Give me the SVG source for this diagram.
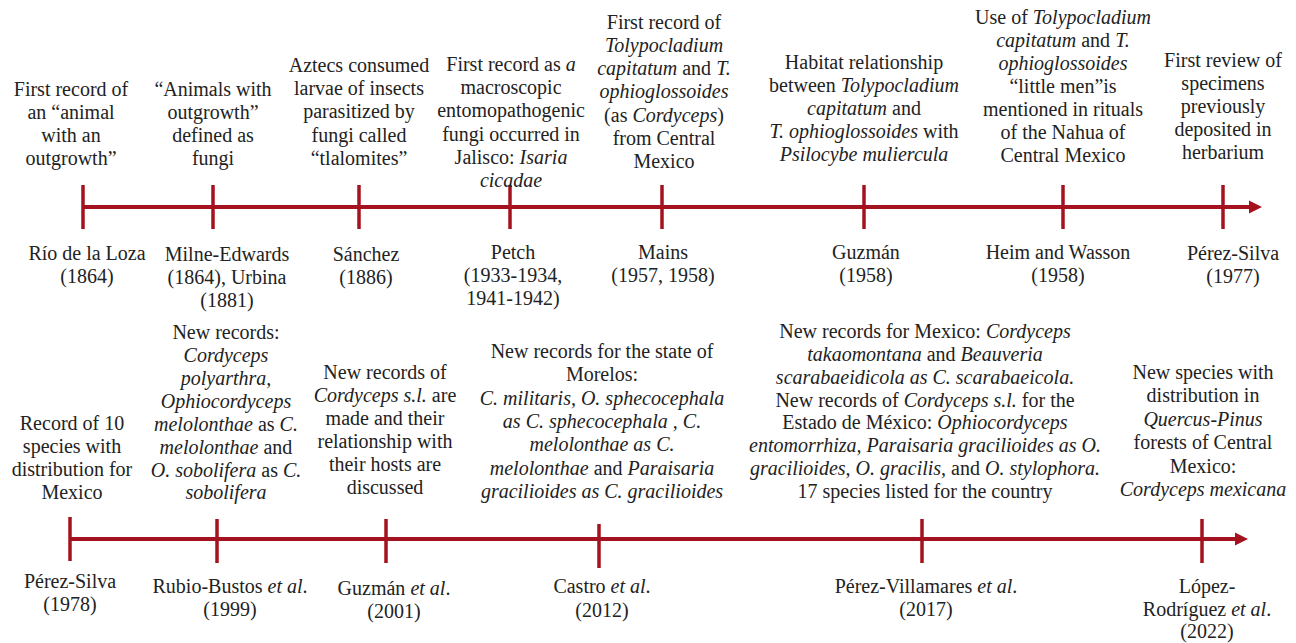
<svg xmlns="http://www.w3.org/2000/svg" width="1296" height="643" viewBox="0 0 1296 643">
<style>
text{font-family:"Liberation Serif","Times New Roman",serif;font-size:20px;fill:#222;text-anchor:middle}
.i{font-style:italic}
.axis{stroke:#a3121e;stroke-width:4;fill:none}
.tick{stroke:#a3121e;stroke-width:3.5}
</style>
<defs>
<marker id="arr" markerUnits="userSpaceOnUse" markerWidth="14" markerHeight="14" viewBox="0 0 14 14" refX="0" refY="7" orient="auto">
<path d="M0,0.5 L13,7 L0,13.5 z" fill="#a3121e"/>
</marker>
</defs>
<rect width="1296" height="643" fill="#fff"/>
<g id="connectors">
<line class="axis" x1="83" y1="207" x2="1249" y2="207" marker-end="url(#arr)"/>
<line class="axis" x1="70" y1="539" x2="1235" y2="539" marker-end="url(#arr)"/>
</g>
<g id="ev-rio">
<line class="tick" x1="83" y1="185" x2="83" y2="229"/>
<text><tspan x="71" y="96">First record of</tspan><tspan x="71" y="119">an “animal</tspan><tspan x="71" y="142">with an</tspan><tspan x="71" y="165">outgrowth”</tspan></text>
<text><tspan x="87" y="260">Río de la Loza</tspan><tspan x="87" y="283">(1864)</tspan></text>
</g>
<g id="ev-milne">
<line class="tick" x1="213" y1="185" x2="213" y2="229"/>
<text><tspan x="213" y="96">“Animals with</tspan><tspan x="213" y="119">outgrowth”</tspan><tspan x="213" y="142">defined as</tspan><tspan x="213" y="165">fungi</tspan></text>
<text><tspan x="227" y="261">Milne-Edwards</tspan><tspan x="227" y="284">(1864), Urbina</tspan><tspan x="227" y="307">(1881)</tspan></text>
</g>
<g id="ev-sanchez">
<line class="tick" x1="359" y1="185" x2="359" y2="229"/>
<text><tspan x="359" y="72">Aztecs consumed</tspan><tspan x="359" y="95">larvae of insects</tspan><tspan x="359" y="118">parasitized by</tspan><tspan x="359" y="142">fungi called</tspan><tspan x="359" y="165">“tlalomites”</tspan></text>
<text><tspan x="366" y="261">Sánchez</tspan><tspan x="366" y="284">(1886)</tspan></text>
</g>
<g id="ev-petch">
<line class="tick" x1="510" y1="185" x2="510" y2="229"/>
<text><tspan x="511" y="71">First record as <tspan class="i">a</tspan></tspan><tspan x="511" y="94">macroscopic</tspan><tspan x="511" y="117">entomopathogenic</tspan><tspan x="511" y="141">fungi occurred in</tspan><tspan x="511" y="164">Jalisco: <tspan class="i">Isaria</tspan></tspan><tspan x="511" y="187" class="i">cicadae</tspan></text>
<text><tspan x="513" y="259">Petch</tspan><tspan x="513" y="282">(1933-1934,</tspan><tspan x="513" y="305">1941-1942)</tspan></text>
</g>
<g id="ev-mains">
<line class="tick" x1="662" y1="185" x2="662" y2="229"/>
<text><tspan x="664" y="29">First record of</tspan><tspan x="664" y="52" class="i">Tolypocladium</tspan><tspan x="664" y="75"><tspan class="i">capitatum</tspan> and <tspan class="i">T.</tspan></tspan><tspan x="664" y="98" class="i">ophioglossoides</tspan><tspan x="664" y="122">(as <tspan class="i">Cordyceps</tspan>)</tspan><tspan x="664" y="145">from Central</tspan><tspan x="664" y="168">Mexico</tspan></text>
<text><tspan x="663" y="259">Mains</tspan><tspan x="663" y="282">(1957, 1958)</tspan></text>
</g>
<g id="ev-guzman">
<line class="tick" x1="864" y1="185" x2="864" y2="229"/>
<text><tspan x="864" y="69">Habitat relationship</tspan><tspan x="864" y="92">between <tspan class="i">Tolypocladium</tspan></tspan><tspan x="864" y="115"><tspan class="i">capitatum</tspan> and</tspan><tspan x="864" y="138"><tspan class="i">T. ophioglossoides</tspan> with</tspan><tspan x="864" y="161" class="i">Psilocybe muliercula</tspan></text>
<text><tspan x="866" y="259">Guzmán</tspan><tspan x="866" y="282">(1958)</tspan></text>
</g>
<g id="ev-heim">
<line class="tick" x1="1063" y1="185" x2="1063" y2="229"/>
<text><tspan x="1063" y="24">Use of <tspan class="i">Tolypocladium</tspan></tspan><tspan x="1063" y="47"><tspan class="i">capitatum</tspan> and <tspan class="i">T.</tspan></tspan><tspan x="1063" y="70" class="i">ophioglossoides</tspan><tspan x="1063" y="93">“little men”is</tspan><tspan x="1063" y="116">mentioned in rituals</tspan><tspan x="1063" y="139">of the Nahua of</tspan><tspan x="1063" y="162">Central Mexico</tspan></text>
<text><tspan x="1058" y="259">Heim and Wasson</tspan><tspan x="1058" y="282">(1958)</tspan></text>
</g>
<g id="ev-perezsilva1977">
<line class="tick" x1="1223" y1="185" x2="1223" y2="229"/>
<text><tspan x="1223" y="67">First review of</tspan><tspan x="1223" y="90">specimens</tspan><tspan x="1223" y="113">previously</tspan><tspan x="1223" y="136">deposited in</tspan><tspan x="1223" y="159">herbarium</tspan></text>
<text><tspan x="1233" y="260">Pérez-Silva</tspan><tspan x="1233" y="283">(1977)</tspan></text>
</g>
<g id="ev-perezsilva1978">
<line class="tick" x1="70" y1="517" x2="70" y2="561"/>
<text><tspan x="72" y="430">Record of 10</tspan><tspan x="72" y="453">species with</tspan><tspan x="72" y="476">distribution for</tspan><tspan x="72" y="499">Mexico</tspan></text>
<text><tspan x="70" y="588">Pérez-Silva</tspan><tspan x="70" y="611">(1978)</tspan></text>
</g>
<g id="ev-rubio">
<line class="tick" x1="217" y1="519" x2="217" y2="563"/>
<text><tspan x="226" y="339">New records:</tspan><tspan x="226" y="362" class="i">Cordyceps</tspan><tspan x="226" y="385" class="i">polyarthra,</tspan><tspan x="226" y="408" class="i">Ophiocordyceps</tspan><tspan x="226" y="431"><tspan class="i">melolonthae</tspan> as <tspan class="i">C.</tspan></tspan><tspan x="226" y="454"><tspan class="i">melolonthae</tspan> and</tspan><tspan x="226" y="477"><tspan class="i">O. sobolifera</tspan> as <tspan class="i">C.</tspan></tspan><tspan x="226" y="499" class="i">sobolifera</tspan></text>
<text><tspan x="230" y="593">Rubio-Bustos <tspan class="i">et al</tspan>.</tspan><tspan x="230" y="616">(1999)</tspan></text>
</g>
<g id="ev-guzman2001">
<line class="tick" x1="386" y1="519" x2="386" y2="563"/>
<text><tspan x="385" y="379">New records of</tspan><tspan x="385" y="402"><tspan class="i">Cordyceps s.l.</tspan> are</tspan><tspan x="385" y="425">made and their</tspan><tspan x="385" y="448">relationship with</tspan><tspan x="385" y="471">their hosts are</tspan><tspan x="385" y="494">discussed</tspan></text>
<text><tspan x="394" y="595">Guzmán <tspan class="i">et al</tspan>.</tspan><tspan x="394" y="618">(2001)</tspan></text>
</g>
<g id="ev-castro">
<line class="tick" x1="599" y1="524" x2="599" y2="568"/>
<text><tspan x="602" y="358">New records for the state of</tspan><tspan x="602" y="381">Morelos:</tspan><tspan x="602" y="405" class="i">C. militaris, O. sphecocephala</tspan><tspan x="602" y="428" class="i">as C. sphecocephala , C.</tspan><tspan x="602" y="451" class="i">melolonthae as C.</tspan><tspan x="602" y="475"><tspan class="i">melolonthae</tspan> and <tspan class="i">Paraisaria</tspan></tspan><tspan x="602" y="498" class="i">gracilioides as C. gracilioides</tspan></text>
<text><tspan x="602" y="593">Castro <tspan class="i">et al</tspan>.</tspan><tspan x="602" y="617">(2012)</tspan></text>
</g>
<g id="ev-perezvillamares">
<line class="tick" x1="922" y1="519" x2="922" y2="563"/>
<text><tspan x="925" y="338">New records for Mexico: <tspan class="i">Cordyceps</tspan></tspan><tspan x="925" y="361"><tspan class="i">takaomontana</tspan> and <tspan class="i">Beauveria</tspan></tspan><tspan x="925" y="384" class="i">scarabaeidicola as C. scarabaeicola.</tspan><tspan x="925" y="407">New records of <tspan class="i">Cordyceps s.l.</tspan> for the</tspan><tspan x="925" y="429">Estado de México: <tspan class="i">Ophiocordyceps</tspan></tspan><tspan x="925" y="452" class="i">entomorrhiza, Paraisaria gracilioides as O.</tspan><tspan x="925" y="475"><tspan class="i">gracilioides, O. gracilis,</tspan> and <tspan class="i">O. stylophora.</tspan></tspan><tspan x="925" y="498">17 species listed for the country</tspan></text>
<text><tspan x="926" y="593">Pérez-Villamares <tspan class="i">et al</tspan>.</tspan><tspan x="926" y="616">(2017)</tspan></text>
</g>
<g id="ev-lopez">
<line class="tick" x1="1202" y1="519" x2="1202" y2="563"/>
<text><tspan x="1203" y="379">New species with</tspan><tspan x="1203" y="402">distribution in</tspan><tspan x="1203" y="426" class="i">Quercus-Pinus</tspan><tspan x="1203" y="449">forests of Central</tspan><tspan x="1203" y="473">Mexico:</tspan><tspan x="1203" y="496" class="i">Cordyceps mexicana</tspan></text>
<text><tspan x="1207" y="593">López-</tspan><tspan x="1207" y="616">Rodríguez <tspan class="i">et al</tspan>.</tspan><tspan x="1207" y="638">(2022)</tspan></text>
</g>
</svg>
